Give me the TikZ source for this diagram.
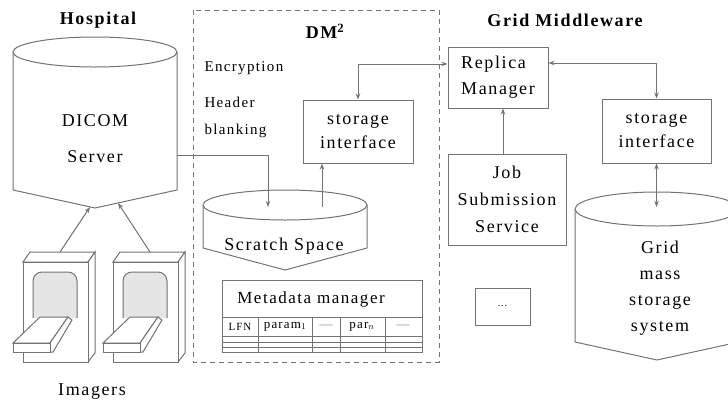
\documentclass[tikz,border=0pt]{standalone}
\usepackage{fontspec}
\setmainfont{Liberation Serif}[LetterSpace=9]
\usepackage{tikz}
\usetikzlibrary{arrows.meta}
\tikzstyle{line} = [draw=black!55,line width=1pt]
\tikzstyle{box} = [line,fill=white,inner sep=0pt,align=center]
\tikzstyle{arr} = [line,-{Stealth[length=6pt,width=4.5pt]}]
\tikzstyle{arrs} = [line,{Stealth[length=6pt,width=4.5pt]}-{Stealth[length=6pt,width=4.5pt]}]
\tikzstyle{title} = [font=\fontsize{18}{26}\selectfont\bfseries,text=black]
\tikzstyle{small} = [font=\fontsize{15}{27}\selectfont,align=left]
\tikzstyle{cell} = [font=\fontsize{13}{15}\selectfont,inner sep=0pt]

% cylinder: centre x, top y, half width, top radius, side bottom, drop
\newcommand{\cyl}[6]{%
  \draw[line,fill=white] (#1-#3,#2) -- (#1-#3,#5) -- (#1,#5+#6) -- (#1+#3,#5) -- (#1+#3,#2);
  \draw[line,fill=white] (#1,#2) ellipse [x radius=#3, y radius=#4];}

% scanner, shifted to the right by #1
\newcommand{\scanner}[1]{%
  \begin{scope}[xshift=#1pt]
    \draw[line,fill=white] (23,262) -- (30,252) -- (95,252) -- (88,262) -- cycle;
    \draw[line,fill=white] (88,262) -- (95,252) -- (95,353) -- (88,362) -- cycle;
    \draw[line,fill=white] (23,262) rectangle (88,362);
    \draw[line,fill=black!10,rounded corners=9pt] (33,318) -- (33,272) -- (77,272) -- (77,318);
    \draw[line,fill=white] (40,317) -- (68,317) -- (50,343) -- (13,343) -- cycle;
    \draw[line,fill=white] (50,343) -- (68,317) -- (72,320) -- (53,352) -- (50,352) -- cycle;
    \draw[line,fill=white] (13,343) rectangle (50,352);
  \end{scope}}

\begin{document}
\begin{tikzpicture}[x=1pt,y=-1pt,
        every node/.style={font=\fontsize{18}{26}\selectfont,text=black}]
        \useasboundingbox (0,0) rectangle (728,405);
        \clip (0,0) rectangle (728,405);

        % titles
        \node[title] (hosp) at (98,20) {Hospital};
        \node[title] (dmtitle) at (325,31) {DM\textsuperscript{2}};
        \node[title] (gridtitle) at (565,20) {Grid Middleware};

        % DM2 frame
        \draw[line,dash pattern=on 5pt off 4pt,line width=0.8pt] (193,10) rectangle (439,362);

        % cylinders
        \cyl{95}{52}{82}{15}{190}{18}
        \cyl{285}{205}{82}{15}{248}{22}
        \cyl{657}{209}{82}{17}{342}{18}

        \node (dicom) at (95,121) {DICOM};
        \node (server) at (95,157) {Server};
        \node (scratch) at (284,246) {Scratch Space};
        \node[align=center] (gmss) at (660,288) {Grid\\mass\\storage\\system};

        % imagers
        \scanner{0}
        \scanner{90}
        \node (imagers) at (92,392) {Imagers};

        % DM2 parts
        \node[small,anchor=west] (enc) at (201,68) {Encryption};
        \node[small,anchor=west] (hdr) at (201,117) {Header\\blanking};
        \node[box,minimum width=110pt,minimum height=63pt,font=\fontsize{18}{24}\selectfont]
          (dmsi) at (358,131.5) {storage\\interface};

        % metadata table
        \draw[line] (222,280) rectangle (422,352);
        \draw[line] (222,317) -- (422,317);
        \draw[line] (222,336) -- (422,336);
        \draw[line] (222,342) -- (422,342);
        \draw[line] (222,347) -- (422,347);
        \draw[line] (258,317) -- (258,352);
        \draw[line] (312,317) -- (312,352);
        \draw[line] (340,317) -- (340,352);
        \draw[line] (385,317) -- (385,352);
        \node[font=\fontsize{17}{20}\selectfont] (meta) at (311,299) {Metadata manager};
        \node[cell,font=\fontsize{11}{13}\selectfont] (lfn) at (240,326.5) {LFN};
        \node[cell] (par1) at (285,326.5) {param$_1$};
        \node[cell,text=black!45] (gap1) at (326,326.5) {\textemdash};
        \node[cell] (parn) at (362,326.5) {par$_n$};
        \node[cell,text=black!45] (gap2) at (403,326.5) {\textemdash};

        % grid middleware
        \node[box,minimum width=100pt,minimum height=61pt,align=left]
          (rm) at (498,77.5) {Replica\\Manager};
        \node[box,minimum width=118pt,minimum height=91pt,font=\fontsize{18}{27}\selectfont]
          (job) at (507,199.5) {Job\\Submission\\Service};
        \node[box,minimum width=55pt,minimum height=37pt,font=\fontsize{10}{12}\selectfont]
          (more) at (502.5,306.5) {...};
        \node[box,minimum width=109pt,minimum height=64pt,font=\fontsize{18}{24}\selectfont]
          (gsi) at (656.5,131) {storage\\interface};

        % connector ends on the cylinders
        \coordinate (dcout) at (177,155);
        \coordinate (dcin1) at (90,207);
        \coordinate (dcin2) at (118,203);
        \coordinate (img1) at (60,252);
        \coordinate (img2) at (150,252);
        \coordinate (scin) at (268,207);
        \coordinate (scout) at (322,207);
        \coordinate (gridtop) at (656.5,207);

        % data flow
        \draw[arr] (img1) -- (dcin1);
        \draw[arr] (img2) -- (dcin2);
        \draw[arr] (dcout) -| (scin);
        \draw[arr] (scout) -- (scout |- dmsi.south);
        \draw[arrs] (dmsi.north) |- ([yshift=13.5pt]rm.west);
        \draw[arr] ([xshift=-4pt]job.north) -- ([xshift=-4pt]job.north |- rm.south);
        \draw[arrs] ([yshift=14.5pt]rm.east) -| (gsi.north);
        \draw[arrs] (gsi.south) -- (gridtop);

      \end{tikzpicture}
\end{document}
